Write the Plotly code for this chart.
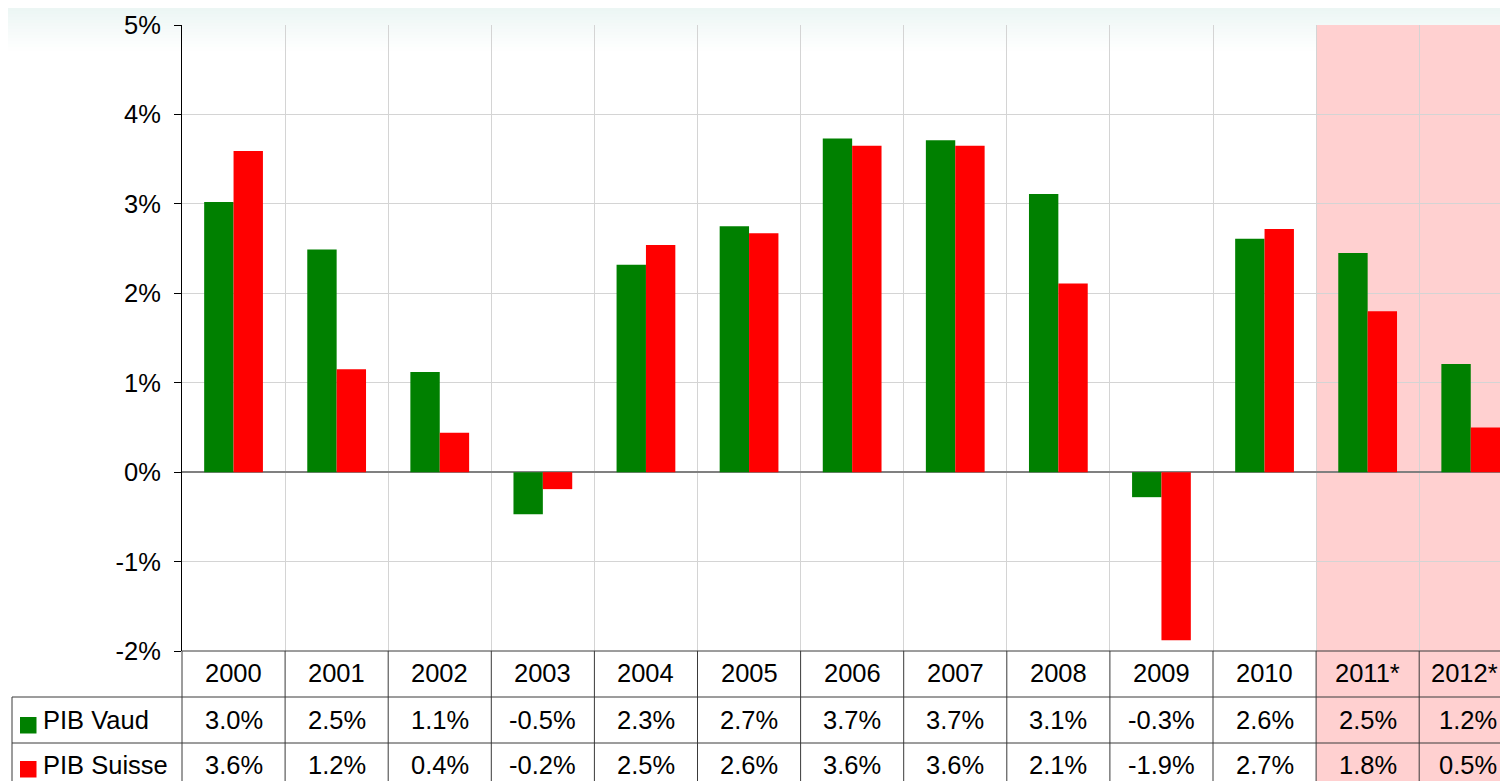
import plotly.graph_objects as go

# ---------------- data ----------------
years = ["2000", "2001", "2002", "2003", "2004", "2005", "2006",
         "2007", "2008", "2009", "2010", "2011*", "2012*"]
pib_vaud = [3.02, 2.49, 1.12, -0.47, 2.32, 2.75, 3.73, 3.71, 3.11, -0.28, 2.61, 2.45, 1.21]
pib_suisse = [3.59, 1.15, 0.44, -0.19, 2.54, 2.67, 3.65, 3.65, 2.11, -1.88, 2.72, 1.80, 0.50]
vaud_labels = ["3.0%", "2.5%", "1.1%", "-0.5%", "2.3%", "2.7%", "3.7%",
               "3.7%", "3.1%", "-0.3%", "2.6%", "2.5%", "1.2%"]
suisse_labels = ["3.6%", "1.2%", "0.4%", "-0.2%", "2.5%", "2.6%", "3.6%",
                 "3.6%", "2.1%", "-1.9%", "2.7%", "1.8%", "0.5%"]
series_names = ["PIB Vaud", "PIB Suisse"]
y_ticks = [-2, -1, 0, 1, 2, 3, 4, 5]
y_tick_text = ["-2%", "-1%", "0%", "1%", "2%", "3%", "4%", "5%"]

# ---------------- geometry ----------------
OFF = 8                      # page body margin
W, H = 1508 - OFF, 781 - OFF
FONT = "Liberation Sans, Arial, sans-serif"
FS = 25.5
GREEN, RED = "#008000", "#ff0000"
TABLE_LINE = "#3a3a3a"


def X(px):
    return (px - OFF) / W


def Y(py):
    return 1 - (py - OFF) / H


plot_left, plot_top, plot_bottom = 182, 25, 651
col_w = 103.1
n = len(years)
x_idx = list(range(n))
x_max = -0.5 + (1508 - plot_left) / col_w

fig = go.Figure()
fig.add_trace(go.Bar(x=x_idx, y=pib_vaud, name=series_names[0],
                     marker=dict(color=GREEN, line=dict(width=0))))
fig.add_trace(go.Bar(x=x_idx, y=pib_suisse, name=series_names[1],
                     marker=dict(color=RED, line=dict(width=0))))

shapes = []
# top gradient background
top_c = (232, 244, 242)
steps = 14
for k in range(steps):
    t = (k + 3) / (steps + 3)
    c = tuple(int(round(top_c[j] + (255 - top_c[j]) * t)) for j in range(3))
    y0p = OFF + k * 3
    shapes.append(dict(type="rect", xref="paper", yref="paper", layer="below",
                       x0=0, x1=1, y0=Y(y0p + 3.5), y1=Y(y0p),
                       fillcolor=f"rgb{c}", line=dict(width=0)))
# forecast shading
shapes.append(dict(type="rect", xref="x", yref="paper", layer="below",
                   x0=10.5, x1=x_max + 1, y0=Y(800), y1=Y(plot_top),
                   fillcolor="#ffd0d0", line=dict(width=0)))
# table horizontal lines
for py, x0 in [(plot_bottom, X(plot_left)), (697, X(12)), (743, X(12))]:
    shapes.append(dict(type="line", xref="paper", yref="paper",
                       x0=x0, x1=1, y0=Y(py), y1=Y(py),
                       line=dict(color=TABLE_LINE, width=1)))
# left table borders
shapes.append(dict(type="line", xref="paper", yref="paper",
                   x0=X(12), x1=X(12), y0=Y(800), y1=Y(697),
                   line=dict(color=TABLE_LINE, width=1)))
shapes.append(dict(type="line", xref="paper", yref="paper",
                   x0=X(plot_left), x1=X(plot_left), y0=Y(800), y1=Y(plot_bottom),
                   line=dict(color=TABLE_LINE, width=1)))
# table vertical lines
for i in range(n - 1):
    shapes.append(dict(type="line", xref="x", yref="paper",
                       x0=i + 0.5, x1=i + 0.5, y0=Y(800), y1=Y(plot_bottom),
                       line=dict(color=TABLE_LINE, width=1)))
# legend keys
for py0, col in [(717, GREEN), (761, RED)]:
    shapes.append(dict(type="rect", xref="paper", yref="paper",
                       x0=X(20), x1=X(36.5), y0=Y(py0 + 16.5), y1=Y(py0),
                       fillcolor=col, line=dict(width=0)))

annotations = []
fnt = dict(family=FONT, size=FS, color="#000000")
for i, yr in enumerate(years):
    shift = -6 if i == n - 1 else 0
    annotations.append(dict(x=i, y=Y(673), xref="x", yref="paper", text=yr,
                            showarrow=False, font=fnt, xanchor="center", yanchor="middle",
                            xshift=shift))
    annotations.append(dict(x=i, y=Y(720), xref="x", yref="paper", text=vaud_labels[i],
                            showarrow=False, font=fnt, xanchor="center", yanchor="middle",
                            xshift=shift / 2))
    annotations.append(dict(x=i, y=Y(765), xref="x", yref="paper", text=suisse_labels[i],
                            showarrow=False, font=fnt, xanchor="center", yanchor="middle",
                            xshift=shift / 2))
for name, py in zip(series_names, [720, 765]):
    annotations.append(dict(x=X(41), y=Y(py), xref="paper", yref="paper", text=name,
                            showarrow=False, font=fnt, xanchor="left", yanchor="middle"))

fig.update_layout(
    width=W, height=H,
    margin=dict(l=0, r=0, t=0, b=0, autoexpand=False),
    paper_bgcolor="#ffffff",
    plot_bgcolor="rgba(0,0,0,0)",
    barmode="group", bargap=0.43, bargroupgap=0,
    showlegend=False,
    shapes=shapes,
    annotations=annotations,
    xaxis=dict(domain=[X(plot_left), 1], range=[-0.5, x_max],
               tickvals=[i + 0.5 for i in range(n - 1)],
               showticklabels=False, ticks="", showgrid=True,
               gridcolor="#d4d4d4", gridwidth=1, zeroline=False,
               showline=False, fixedrange=True),
    yaxis=dict(domain=[Y(plot_bottom), Y(plot_top)], range=[-2, 5],
               tickvals=y_ticks, ticktext=y_tick_text,
               tickfont=dict(family=FONT, size=FS, color="#000000"),
               ticks="outside", ticklen=7, tickcolor="#000000", tickwidth=1,
               ticklabelstandoff=8,
               showline=True, linecolor="#000000", linewidth=1,
               showgrid=True, gridcolor="#d4d4d4", gridwidth=1,
               zeroline=True, zerolinecolor="#808080", zerolinewidth=2,
               fixedrange=True),
)

fig.write_html("out.html")
